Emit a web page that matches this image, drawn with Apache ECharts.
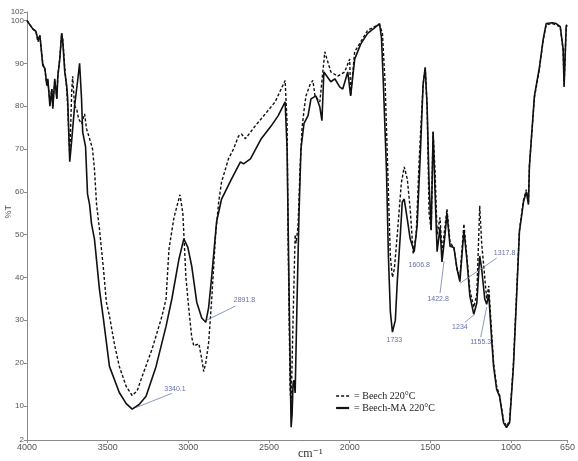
<!DOCTYPE html>
<html><head><meta charset="utf-8">
<script src="https://cdn.jsdelivr.net/npm/echarts@6/dist/echarts.min.js"></script>
<style>html,body{margin:0;padding:0;background:#fff}#c{width:578px;height:461px}</style>
</head><body><div id="c"></div>
<script>
// Wavenumber (cm-1) / %T pairs
const beech = [[4000,100],[3982,99],[3963,98],[3945,97.5],[3932,95],[3920,96.5],[3908,92],[3902,90],[3889,88.5],[3877,85],[3871,86],[3858,81],[3846,84],[3840,80],[3828,86],[3815,82],[3809,87],[3797,91],[3785,97],[3778,95.5],[3766,89],[3754,84],[3748,80],[3735,68],[3723,83.4],[3717,87],[3705,80],[3692,79.4],[3680,77],[3662,75.9],[3643,78.2],[3631,74.7],[3612,72.4],[3594,70],[3582,65.3],[3569,57.1],[3551,51.3],[3526,41.9],[3508,34.2],[3489,31],[3458,24.4],[3428,19.2],[3385,14.5],[3348,12.4],[3317,13.5],[3286,16.9],[3225,23.2],[3163,31],[3138,35],[3120,46.6],[3089,54],[3052,59.3],[3034,55],[3015,40],[2997,32.6],[2979,26],[2966,24],[2954,23.7],[2935,24.5],[2917,21],[2905,18],[2892,20],[2874,24.8],[2855,35],[2831,50],[2812,57.6],[2794,62.3],[2751,67.7],[2720,70],[2689,73],[2671,73.5],[2646,72.4],[2585,75.4],[2523,78.2],[2462,81],[2400,86],[2388,76],[2382,50],[2375,30],[2369,14],[2363,10],[2351,30],[2338,50],[2332,48],[2320,52],[2308,65],[2295,75],[2283,79],[2271,82.4],[2246,85],[2228,86],[2215,82.4],[2185,81],[2154,92.7],[2117,88],[2074,87],[2031,88],[2000,91],[1994,82.4],[1969,92.7],[1932,95],[1889,97.7],[1846,98.6],[1815,99],[1797,97],[1780,85],[1760,60],[1748,45],[1735,40],[1723,42],[1705,50],[1680,62],[1662,65.8],[1643,63],[1625,56],[1606,45.4],[1588,50],[1569,67.7],[1545,85],[1532,89],[1520,80],[1508,55],[1495,51],[1483,74],[1471,65],[1458,50],[1440,54],[1428,46],[1409,52],[1397,56],[1378,48],[1354,47],[1335,42],[1317,40],[1292,52.5],[1274,45],[1255,37],[1231,33],[1212,36],[1194,56.7],[1182,48],[1163,40],[1151,35],[1138,38],[1120,27],[1108,20],[1089,14.5],[1071,12.5],[1046,6.5],[1028,5.2],[1009,6.5],[985,20],[966,36],[948,51],[923,58],[905,60.5],[892,57.5],[886,66],[855,82],[825,88.5],[800,95.5],[782,99],[745,99.3],[720,99],[695,98.5],[677,93],[671,85],[658,98.5],[652,98.8]];

const beechMA = [[4000,100],[3982,99],[3963,98],[3945,97.5],[3932,95.5],[3920,96.5],[3908,91.8],[3902,89.5],[3889,88.8],[3877,84.8],[3871,86.4],[3858,80],[3846,84],[3840,79.4],[3828,86.4],[3815,81.7],[3809,87],[3797,91],[3785,97],[3778,95],[3766,88],[3754,84.8],[3748,81.7],[3735,67],[3723,72],[3705,80],[3686,86],[3674,90],[3662,81.7],[3655,74],[3637,70.5],[3625,59.5],[3612,57],[3600,52.5],[3582,49],[3551,37.2],[3526,30.2],[3489,19.2],[3428,13.1],[3385,10.5],[3348,9.2],[3305,10.3],[3262,12.2],[3200,19.2],[3138,28.6],[3102,35],[3058,44.3],[3028,49],[3003,47],[2979,42.6],[2948,34.2],[2917,30.5],[2892,29.5],[2874,33],[2855,40.3],[2825,53],[2794,58.3],[2732,63],[2677,67],[2658,66.5],[2615,67.7],[2548,72.4],[2486,75.4],[2443,77.8],[2400,81],[2388,70],[2375,35],[2363,5],[2357,8],[2351,15],[2345,16],[2338,13],[2326,35],[2314,55],[2302,70],[2283,76],[2258,77.8],[2240,81.7],[2209,82.4],[2185,79.8],[2172,76.6],[2160,88],[2148,87.6],[2117,85.7],[2092,86.4],[2062,84.5],[2043,84],[2012,88],[1994,82.4],[1969,91],[1932,94.5],[1889,97],[1846,98.3],[1815,99.3],[1803,96],[1791,85],[1772,65],[1760,45],[1748,32],[1735,27.2],[1717,30],[1705,39],[1686,50],[1674,57.6],[1662,58.3],[1643,53.6],[1625,49],[1600,46],[1582,52],[1563,68],[1545,85],[1532,89],[1520,80],[1508,62],[1495,51],[1483,74],[1471,60],[1458,46],[1440,51.7],[1428,43.6],[1409,50],[1397,55],[1378,47.3],[1354,47],[1335,42],[1317,39],[1292,51],[1274,44.3],[1255,35.6],[1231,31.4],[1212,34],[1194,45],[1182,42],[1163,35],[1151,33.7],[1138,36],[1120,25.5],[1108,19.2],[1089,13.8],[1071,12.2],[1046,6],[1028,4.9],[1009,6],[985,19.2],[966,35],[948,50.6],[923,57.6],[905,60],[892,57],[886,66],[855,82.4],[825,88.8],[800,95.8],[782,99.3],[745,99.5],[720,99.3],[695,98.6],[677,93.4],[671,84.5],[658,98.8],[652,99]];

const seriesNames = ['= Beech 220°C', '= Beech-MA 220°C'];
const xTicks = [4000, 3500, 3000, 2500, 2000, 1500, 1000, 650];
const yTicks = [2, 10, 20, 30, 40, 50, 60, 70, 80, 90, 100, 102];

// peak annotations: label text, label anchor [cm-1, %T]
const peakLabels = ['3340.1', '2891.8', '1733', '1606.8', '1422.8', '1317.8', '1234', '1155.3'];
const peakLabelPos = [[3083,13.8],[2652,34.7],[1723,25.3],[1569,42.9],[1452,34.9],[1040,45.7],[1317,28.3],[1188,24.8]];
// leader lines [[from],[to]]
const leaders = [
  [[3323,9.6],[3102,12.9]],
  [[2886,30],[2708,33.3]],
  [[1440,36.3],[1415,43.8]],
  [[1089,44.5],[1317,38.6]],
  [[1286,29.5],[1225,31.4]],
  [[1188,26],[1151,33]]
];

const chart = echarts.init(document.getElementById('c'), null, {renderer: 'canvas'});
const axisCol = '#8a8a8a';
const labCol = '#555';
const dashStyle = {color: '#111', width: 1.4, type: [3, 2]};
const solidStyle = {color: '#111', width: 1.6, type: 'solid'};
chart.setOption({
  animation: false,
  backgroundColor: '#fff',
  grid: {left: 27, right: 7, top: 12, bottom: 21, containLabel: false},
  xAxis: {
    type: 'value', min: 650, max: 4000, inverse: true,
    axisLine: {show: true, lineStyle: {color: axisCol, width: 1}},
    axisTick: {show: true, length: 3, customValues: xTicks, lineStyle: {color: axisCol}},
    axisLabel: {customValues: xTicks, formatter: v => String(v), color: labCol, fontSize: 9, margin: 3, fontFamily: 'Liberation Sans'},
    splitLine: {show: false}
  },
  yAxis: {
    type: 'value', min: 2, max: 102,
    axisLine: {show: true, lineStyle: {color: axisCol, width: 1}},
    axisTick: {show: true, length: 3, customValues: yTicks, lineStyle: {color: axisCol}},
    axisLabel: {customValues: yTicks, formatter: v => String(v), color: labCol, fontSize: 8, margin: 3, fontFamily: 'Liberation Sans'},
    splitLine: {show: false}
  },
  legend: {
    show: true,
    orient: 'vertical', left: 330, top: 386, itemWidth: 13, itemHeight: 8, itemGap: 2,
    itemStyle: {opacity: 0},
    data: [
      {name: seriesNames[0], lineStyle: dashStyle},
      {name: seriesNames[1], lineStyle: {color: '#111', width: 2.2, type: 'solid'}}
    ],
    textStyle: {fontFamily: 'Liberation Serif', fontSize: 10, color: '#222'}
  },
  series: [
    {
      name: seriesNames[0], type: 'line', data: beech, symbol: 'none', smooth: false,
      lineStyle: dashStyle, itemStyle: {color: '#111'}, z: 3
    },
    {
      name: seriesNames[1], type: 'line', data: beechMA, symbol: 'none', smooth: false,
      lineStyle: solidStyle, itemStyle: {color: '#111'}, z: 4,
      markLine: {
        silent: true, symbol: ['none', 'none'], animation: false,
        lineStyle: {color: '#6f7fb3', width: 0.8, type: 'solid'},
        label: {show: false},
        data: leaders.map(l => [{coord: l[0]}, {coord: l[1]}])
      }
    },
    {
      name: 'labels', type: 'scatter', symbolSize: 0, silent: true,
      data: peakLabelPos.map((p, i) => ({value: p, name: peakLabels[i]})),
      label: {show: true, position: 'inside', formatter: '{b}', color: '#3b4a95', fontSize: 7, fontFamily: 'Liberation Sans'},
      z: 5
    }
  ],
  graphic: [
    {type: 'text', left: 4, top: 205, rotation: Math.PI / 2, style: {text: '%T', fill: labCol, font: '9px "Liberation Sans"'}},
    {type: 'text', left: 298, top: 448, style: {text: 'cm⁻¹', fill: '#333', font: '12px "Liberation Serif", "DejaVu Serif"'}}
  ]
});
</script></body></html>
